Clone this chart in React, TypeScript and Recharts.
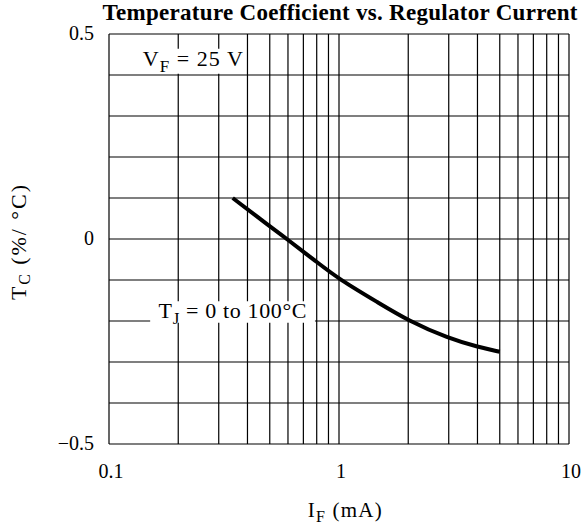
import {
  LineChart,
  Line,
  XAxis,
  YAxis,
  ReferenceLine,
  ReferenceArea,
} from 'recharts';

// I_F (mA) and T_C (%/°C)
const currents = [0.345, 0.5, 0.6, 0.8, 1, 1.5, 2, 3, 4, 5];
const tempCoeff = [0.1, 0.031, -0.002, -0.056, -0.098, -0.157, -0.199, -0.243, -0.263, -0.275];

const xTicks = [0.1, 1, 10];
const yTicks = [-0.5, 0, 0.5];
const xGrid = [0.1, 0.2, 0.3, 0.4, 0.5, 0.6, 0.7, 0.8, 0.9, 1, 2, 3, 4, 5, 6, 7, 8, 9, 10];
const yGrid = [-0.5, -0.4, -0.3, -0.2, -0.1, 0, 0.1, 0.2, 0.3, 0.4, 0.5];

const chartData = currents.map((c, i) => ({ current: c, tc: tempCoeff[i] }));

const FONT = '"Liberation Serif", "Times New Roman", serif';

const XTick = ({ x, y, payload }: any) => (
  <text x={x + 2} y={y} dy="0.71em" textAnchor="middle" fontFamily={FONT} fontSize={20} fill="#000">
    {payload.value}
  </text>
);

const YTick = ({ x, y, payload }: any) => (
  <text x={x} y={y} dy="0.3em" textAnchor="end" fontFamily={FONT} fontSize={20} fill="#000">
    {payload.value < 0 ? `\u2212${Math.abs(payload.value)}` : payload.value}
  </text>
);

// white box label: text drawn inside the ReferenceArea's box
const BoxLabel = ({ viewBox, main, sub, rest, width, base }: any) => (
  <text
    x={viewBox.x + viewBox.width / 2}
    y={viewBox.y + viewBox.height - base}
    textAnchor="middle"
    fontFamily={FONT}
    fontSize={22}
    fill="#000"
    textLength={width}
    lengthAdjust="spacing"
  >
    {main}
    <tspan fontSize={17} dy={6}>{sub}</tspan>
    <tspan dy={-6}>{rest}</tspan>
  </text>
);

export default function App() {
  return (
    <div style={{ position: 'absolute', left: 0, top: 0, width: 583, height: 527, background: '#fff' }}>
      <LineChart
        width={583}
        height={527}
        data={chartData}
        margin={{ top: 34, right: 14, bottom: 53, left: 49 }}
      >
        <text
          x={340}
          y={20}
          textAnchor="middle"
          fontFamily={FONT}
          fontSize={23}
          fontWeight="bold"
          fill="#000"
          textLength={475}
          lengthAdjust="spacing"
        >
          Temperature Coefficient vs. Regulator Current
        </text>
        <XAxis
          dataKey="current"
          type="number"
          scale="log"
          domain={[0.1, 10]}
          ticks={xTicks}
          allowDataOverflow
          axisLine={false}
          tickLine={false}
          tickSize={8}
          tickMargin={12}
          height={30}
          tick={<XTick />}
        />
        <YAxis
          type="number"
          domain={[-0.5, 0.5]}
          ticks={yTicks}
          axisLine={false}
          tickLine={false}
          tickSize={8}
          tickMargin={7}
          width={60}
          tick={<YTick />}
        />
        {xGrid.map((v) => (
          <ReferenceLine key={`x${v}`} x={v} stroke="#000" strokeWidth={1.2} zIndex={50} />
        ))}
        {yGrid.map((v) => (
          <ReferenceLine key={`y${v}`} y={v} stroke="#000" strokeWidth={1.2} zIndex={50} />
        ))}
        <ReferenceArea
          x1={0.136}
          x2={0.394}
          y1={0.403}
          y2={0.464}
          fill="#fff"
          fillOpacity={1}
          stroke="none"
          zIndex={60}
          label={<BoxLabel main="V" sub="F" rest=" = 25 V" width={100} base={7.6} />}
        />
        <ReferenceArea
          x1={0.151}
          x2={0.786}
          y1={-0.204}
          y2={-0.152}
          fill="#fff"
          fillOpacity={1}
          stroke="none"
          zIndex={60}
          label={<BoxLabel main="T" sub="J" rest=" = 0 to 100°C" width={148} base={4.7} />}
        />
        <Line
          type="basis"
          dataKey="tc"
          stroke="#000"
          strokeWidth={4}
          dot={false}
          isAnimationActive={false}
        />
        <text
          x={26}
          y={242.5}
          transform="rotate(-90 26 242.5)"
          textAnchor="middle"
          fontFamily={FONT}
          fontSize={22}
          fill="#000"
          textLength={115}
          lengthAdjust="spacing"
        >
          T<tspan fontSize={16} dy={4}>C</tspan><tspan dy={-4}> (%/ °C)</tspan>
        </text>
        <text
          x={344.7}
          y={516.7}
          textAnchor="middle"
          fontFamily={FONT}
          fontSize={21}
          fill="#000"
          textLength={74}
          lengthAdjust="spacing"
        >
          I<tspan fontSize={16} dy={5}>F</tspan><tspan dy={-5}> (mA)</tspan>
        </text>
      </LineChart>
    </div>
  );
}
